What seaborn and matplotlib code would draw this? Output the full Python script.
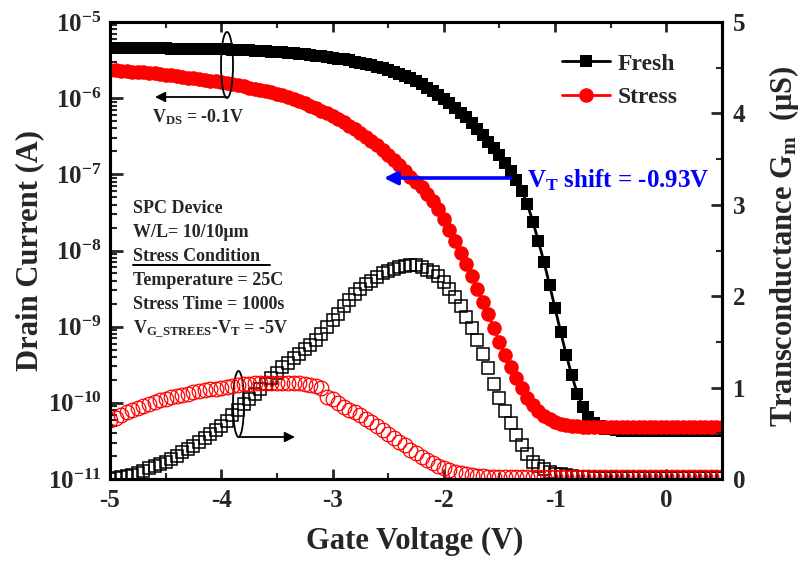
import numpy as np
import matplotlib
matplotlib.use("Agg")
import matplotlib.pyplot as plt
import seaborn as sns
from matplotlib.patches import Ellipse
from matplotlib.lines import Line2D
from matplotlib.ticker import MultipleLocator, LogLocator, FuncFormatter, NullFormatter

# ---------------- data ----------------
# gate-voltage sweep: -5.0 V ... 0.5 V in 0.05 V steps (111 points)
gate_voltage = np.round(np.linspace(-5.0, 0.5, 111), 2)

# log10 of drain current (A), fresh device
fresh_log10_id = [
    -5.34, -5.34, -5.34, -5.34, -5.34, -5.34, -5.34, -5.34, -5.345, -5.345,
    -5.345, -5.35, -5.35, -5.35, -5.35, -5.35, -5.355, -5.355, -5.355, -5.36,
    -5.36, -5.36, -5.365, -5.365, -5.37, -5.37, -5.375, -5.38, -5.385, -5.39,
    -5.395, -5.40, -5.405, -5.41, -5.415, -5.42, -5.43, -5.44, -5.45, -5.46,
    -5.47, -5.48, -5.49, -5.505, -5.52, -5.535, -5.55, -5.57, -5.59, -5.61,
    -5.635, -5.66, -5.685, -5.71, -5.74, -5.77, -5.81, -5.86, -5.91, -5.96,
    -6.01, -6.07, -6.13, -6.19, -6.25, -6.32, -6.40, -6.48, -6.57, -6.66,
    -6.75, -6.85, -6.96, -7.08, -7.22, -7.39, -7.62, -7.88, -8.15, -8.45,
    -8.76, -9.07, -9.37, -9.64, -9.88, -10.06, -10.18, -10.26, -10.31, -10.34,
    -10.35, -10.36, -10.37, -10.37, -10.37, -10.37, -10.37, -10.37, -10.37, -10.37,
    -10.37, -10.37, -10.37, -10.37, -10.37, -10.37, -10.37, -10.37, -10.37, -10.37,
    -10.37,
]

# log10 of drain current (A), after stress
stress_log10_id = [
    -5.63, -5.635, -5.64, -5.645, -5.65, -5.655, -5.66, -5.67, -5.675, -5.68,
    -5.69, -5.70, -5.71, -5.72, -5.73, -5.74, -5.75, -5.76, -5.77, -5.78,
    -5.79, -5.80, -5.815, -5.83, -5.845, -5.86, -5.875, -5.89, -5.905, -5.92,
    -5.94, -5.96, -5.98, -6.01, -6.04, -6.07, -6.10, -6.13, -6.165, -6.20,
    -6.235, -6.27, -6.31, -6.36, -6.41, -6.46, -6.51, -6.565, -6.62, -6.68,
    -6.745, -6.81, -6.88, -6.96, -7.04, -7.10, -7.17, -7.26, -7.35, -7.46,
    -7.58, -7.73, -7.88, -8.03, -8.18, -8.34, -8.50, -8.67, -8.84, -9.02,
    -9.20, -9.37, -9.53, -9.68, -9.81, -9.93, -10.03, -10.11, -10.17, -10.215,
    -10.25, -10.275, -10.29, -10.30, -10.31, -10.315, -10.32, -10.32, -10.32, -10.32,
    -10.32, -10.32, -10.32, -10.32, -10.32, -10.32, -10.32, -10.32, -10.32, -10.32,
    -10.32, -10.32, -10.32, -10.32, -10.32, -10.32, -10.32, -10.32, -10.32, -10.32,
    -10.32,
]

# transconductance (uS), fresh device
fresh_gm = [
    0.00, 0.01, 0.02, 0.03, 0.04, 0.065, 0.09, 0.12, 0.14, 0.16,
    0.19, 0.22, 0.255, 0.29, 0.325, 0.36, 0.40, 0.445, 0.49, 0.535,
    0.58, 0.64, 0.70, 0.76, 0.82, 0.88, 0.935, 0.99, 1.04, 1.10,
    1.16, 1.22, 1.27, 1.32, 1.37, 1.42, 1.47, 1.52, 1.59, 1.66,
    1.74, 1.81, 1.89, 1.96, 2.02, 2.08, 2.13, 2.17, 2.21, 2.25,
    2.28, 2.30, 2.32, 2.33, 2.34, 2.34, 2.32, 2.29, 2.26, 2.22,
    2.16, 2.08, 1.99, 1.89, 1.77, 1.65, 1.52, 1.37, 1.21, 1.04,
    0.89, 0.74, 0.61, 0.48, 0.37, 0.27, 0.19, 0.14, 0.11, 0.08,
    0.06, 0.05, 0.04, 0.03, 0.02, 0.02, 0.02, 0.015, 0.015, 0.015,
    0.01, 0.01, 0.01, 0.01, 0.01, 0.01, 0.01, 0.01, 0.01, 0.01,
    0.01, 0.01, 0.01, 0.01, 0.01, 0.01, 0.01, 0.01, 0.01, 0.01,
    0.01,
]

# transconductance (uS), after stress
stress_gm = [
    0.65, 0.67, 0.70, 0.73, 0.76, 0.78, 0.80, 0.82, 0.84, 0.86,
    0.88, 0.90, 0.91, 0.92, 0.93, 0.95, 0.96, 0.97, 0.98, 0.99,
    1.00, 1.01, 1.02, 1.03, 1.035, 1.04, 1.045, 1.05, 1.05, 1.055,
    1.055, 1.055, 1.05, 1.05, 1.045, 1.04, 1.03, 1.015, 1.00, 0.90,
    0.87, 0.83, 0.79, 0.76, 0.73, 0.70, 0.66, 0.62, 0.58, 0.54,
    0.49, 0.45, 0.41, 0.37, 0.32, 0.28, 0.24, 0.205, 0.17, 0.14,
    0.12, 0.10, 0.08, 0.065, 0.05, 0.04, 0.035, 0.03, 0.025, 0.02,
    0.02, 0.02, 0.02, 0.02, 0.02, 0.02, 0.02, 0.02, 0.02, 0.02,
    0.02, 0.02, 0.02, 0.02, 0.02, 0.02, 0.02, 0.02, 0.02, 0.02,
    0.02, 0.02, 0.02, 0.02, 0.02, 0.02, 0.02, 0.02, 0.02, 0.02,
    0.02, 0.02, 0.02, 0.02, 0.02, 0.02, 0.02, 0.02, 0.02, 0.02,
    0.02,
]

series_labels = ["Fresh", "Stress"]
x_ticks = [-5, -4, -3, -2, -1, 0]
gm_ticks = [0, 1, 2, 3, 4, 5]

fresh_id = 10.0 ** np.array(fresh_log10_id)
stress_id = 10.0 ** np.array(stress_log10_id)

# ---------------- style ----------------
sns.set_style("ticks")
plt.rcParams["font.family"] = ["Liberation Serif", "DejaVu Serif"]
plt.rcParams["font.weight"] = "bold"
plt.rcParams["mathtext.fontset"] = "custom"
plt.rcParams["mathtext.rm"] = "Liberation Serif:bold"
plt.rcParams["mathtext.bf"] = "Liberation Serif:bold"
plt.rcParams["mathtext.it"] = "Liberation Serif:bold"
plt.rcParams["axes.unicode_minus"] = False

W, H = 807, 565
fig = plt.figure(figsize=(W / 100, H / 100), dpi=100)
ax = fig.add_axes([110 / W, 1 - 479 / H, 612 / W, 457 / H])
ax.set_yscale("log")
ax2 = ax.twinx()

# drain current curves
sns.lineplot(x=gate_voltage, y=fresh_id, ax=ax, estimator=None, color="black",
             marker="s", markersize=9.2, markeredgecolor="black", markeredgewidth=0,
             linewidth=2, label=series_labels[0])
sns.lineplot(x=gate_voltage, y=stress_id, ax=ax, estimator=None, color="red",
             marker="o", markersize=10.5, markeredgecolor="red", markeredgewidth=0,
             linewidth=2, label=series_labels[1])

# transconductance curves (open symbols)
sns.lineplot(x=gate_voltage, y=fresh_gm, ax=ax2, estimator=None, color="black",
             marker="s", markersize=8.2, markerfacecolor="none", markeredgecolor="black",
             markeredgewidth=1.1, linestyle="none", legend=False)
sns.lineplot(x=gate_voltage, y=stress_gm, ax=ax2, estimator=None, color="red",
             marker="o", markersize=10.5, markerfacecolor="none", markeredgecolor="red",
             markeredgewidth=0.9, linestyle="none", legend=False)

# ---------------- axes ----------------
ax.set_xlim(-5, 0.5)
ax.set_ylim(1e-11, 1e-5)
ax2.set_ylim(0, 5)

ax.xaxis.set_major_locator(MultipleLocator(1))
ax.xaxis.set_minor_locator(MultipleLocator(0.5))
ax.set_xticks(x_ticks)
ax.set_xticklabels([str(t) for t in x_ticks])
ax.yaxis.set_major_locator(LogLocator(base=10, numticks=20))
ax.yaxis.set_minor_locator(LogLocator(base=10, subs=np.arange(2, 10), numticks=100))
ax.yaxis.set_minor_formatter(NullFormatter())
ax.yaxis.set_major_formatter(FuncFormatter(lambda v, p: r"$\mathbf{10^{%d}}$" % int(round(np.log10(v)))))
ax2.set_yticks(gm_ticks)
ax2.set_yticklabels([str(t) for t in gm_ticks])
ax2.yaxis.set_minor_locator(MultipleLocator(0.5))
ax2.xaxis.set_visible(False)

for a in (ax, ax2):
    for s in a.spines.values():
        s.set_linewidth(2.2)
        s.set_color("black")

ax.tick_params(axis="x", which="major", direction="in", length=7, width=2, top=True,
               labelsize=18, pad=7)
ax.tick_params(axis="x", which="minor", direction="in", length=4, width=1.5, top=True)
ax.tick_params(axis="y", which="major", direction="in", length=9, width=2, labelsize=18, pad=6)
ax.tick_params(axis="y", which="minor", direction="in", length=5, width=1.5)
ax2.tick_params(axis="y", which="major", direction="in", length=8, width=2, labelsize=18, pad=8)
ax2.tick_params(axis="y", which="minor", direction="in", length=4, width=1.5)

ax.set_xlabel("Gate Voltage (V)", fontsize=22, fontweight="bold")
ax.xaxis.set_label_coords(0.498, -0.105)
ax.set_ylabel("Drain Current (A)", fontsize=22, fontweight="bold")
ax.yaxis.set_label_coords(-0.108, 0.5)
ax2.set_ylabel(r"Transconductance G$_\mathbf{m}$  ($\mathbf{\mu}$S)", fontsize=22, fontweight="bold")
ax2.yaxis.set_label_coords(1.073, 0.508)

# legend
leg = ax.legend(loc="upper left", bbox_to_anchor=(562 / W, 1 - 53 / H), bbox_transform=fig.transFigure,
                frameon=False, fontsize=17, handlelength=2.05, handletextpad=0.3,
                labelspacing=0.5, borderpad=0, borderaxespad=0)

# ---------------- annotations ----------------
def fp(x, y):
    """reference pixel -> figure fraction"""
    return (x / W, 1 - y / H)

def axf(x, y):
    """reference pixel -> axes fraction"""
    return ((x - 110) / 612, (479 - y) / 457)

ax.add_patch(Ellipse(axf(227, 65), 12 / 612, 66 / 457, transform=ax.transAxes,
                     fill=False, ec="black", lw=1.3, zorder=6))
ax.annotate("", xy=fp(155, 97), xytext=fp(227, 97), xycoords="figure fraction",
            textcoords="figure fraction",
            arrowprops=dict(arrowstyle="-|>", color="black", lw=1.3, mutation_scale=15,
                            shrinkA=0, shrinkB=0))
fig.text(*fp(152, 122), r"V$_\mathbf{DS}$ = -0.1V", fontsize=13, fontweight="bold", va="baseline")

ax.add_patch(Ellipse(axf(238.5, 404), 11 / 612, 66 / 457, transform=ax.transAxes,
                     fill=False, ec="black", lw=1.3, zorder=6))
ax.annotate("", xy=fp(295, 437), xytext=fp(239, 437), xycoords="figure fraction",
            textcoords="figure fraction",
            arrowprops=dict(arrowstyle="-|>", color="black", lw=1.3, mutation_scale=15,
                            shrinkA=0, shrinkB=0))

ax.annotate("", xy=fp(384, 178), xytext=fp(511, 178), xycoords="figure fraction",
            textcoords="figure fraction",
            arrowprops=dict(arrowstyle="-|>", color="#0000ff", lw=2.6, mutation_scale=20,
                            shrinkA=0, shrinkB=0), zorder=8)
fig.text(*fp(527, 187), r"V$_\mathbf{T}$ shift = -0.93V", fontsize=18, fontweight="bold",
         color="#0000ff", va="baseline")

info_lines = [
    ("SPC Device", 213),
    ("W/L= 10/10μm", 237),
    ("Stress Condition", 261),
    ("Temperature = 25C", 285),
    ("Stress Time = 1000s", 309),
    (r"V$_\mathbf{G\_STREES}$-V$_\mathbf{T}$ = -5V", 334),
]
for txt, yb in info_lines:
    fig.text(*fp(133, yb), txt, fontsize=13, fontweight="bold", va="baseline")
fig.add_artist(Line2D([133 / W, 270 / W], [1 - 264.5 / H] * 2, transform=fig.transFigure,
                      color="black", lw=1.4))

fig.savefig("out.png", dpi=100)
